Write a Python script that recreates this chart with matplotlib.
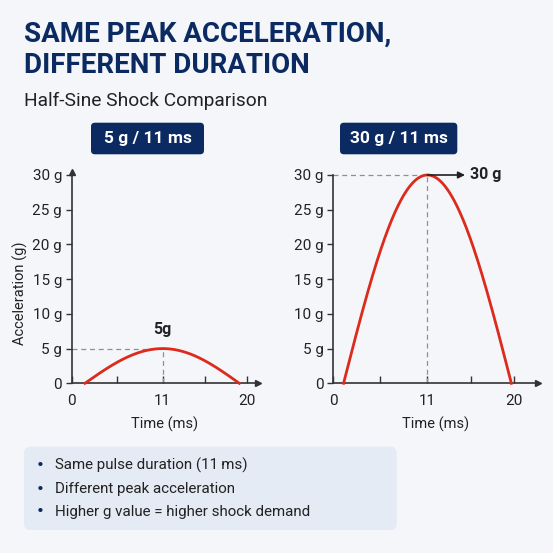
import numpy as np
import matplotlib.pyplot as plt
from matplotlib.patches import FancyBboxPatch

# chart data
panel_titles = ["5 g / 11 ms", "30 g / 11 ms"]
peak_g = [5, 30]
peak_time = 11
pulse_start = [1.6, 1.2]
pulse_end = [19.2, 19.7]
peak_labels = ["5g", "30 g"]
x_ticks = [0, 11, 20]
x_tick_labels = ["0", "11", "20"]
x_minor_ticks = [5.5, 15.5]
y_ticks = [0, 5, 10, 15, 20, 25, 30]
y_tick_labels = ["0", "5 g", "10 g", "15 g", "20 g", "25 g", "30 g"]
bullets = [
    "Same pulse duration (11\u2009ms)",
    "Different peak acceleration",
    "Higher g value = higher shock demand",
]

NAVY = "#0c2a62"
RED = "#dc2a1c"
AXIS = "#333333"
TEXT = "#222222"
BG = "#f4f6fa"

plt.rcParams["font.family"] = ["Roboto", "DejaVu Sans"]

# the time axis is drawn schematically: 11 ms sits just past the middle
BREAK = 0.52


def fwd(t):
    t = np.asarray(t, dtype=float)
    return np.where(t <= 11, t / 11 * BREAK, BREAK + (t - 11) / 9 * (1 - BREAK))


def inv(u):
    u = np.asarray(u, dtype=float)
    return np.where(u <= BREAK, u / BREAK * 11, 11 + (u - BREAK) / (1 - BREAK) * 9)


def half_sine(start, end, tp, peak, n=300):
    t = np.linspace(start, end, n)
    rise = peak * np.sin(np.pi / 2 * (t - start) / (tp - start))
    fall = peak * np.cos(np.pi / 2 * (t - tp) / (end - tp))
    return t, np.where(t <= tp, rise, fall)


fig = plt.figure(figsize=(5.53, 5.53), dpi=100, facecolor=BG)

# titles
fig.text(24 / 553, 1 - 41.7 / 553, "SAME PEAK ACCELERATION,",
         fontweight="bold", fontsize=20, color=NAVY, va="baseline")
fig.text(24 / 553, 1 - 73.3 / 553, "DIFFERENT DURATION",
         fontweight="bold", fontsize=20, color=NAVY, va="baseline")
fig.text(24 / 553, 1 - 106 / 553, "Half-Sine Shock Comparison",
         fontsize=13.8, color=TEXT, va="baseline")

axes_rects = [
    [71.7 / 553, 1 - 383.3 / 553, 186.3 / 553, 211.8 / 553],
    [333.3 / 553, 1 - 383.3 / 553, 204.7 / 553, 208.3 / 553],
]
x_limits = [21.2, 22.46]
y_limits = [30.5, 30]
box_rects = [
    [91 / 553, 1 - 154.3 / 553, 113 / 553, 31.6 / 553],
    [340 / 553, 1 - 154.3 / 553, 117.3 / 553, 31.6 / 553],
]

for i in range(2):
    ax = fig.add_axes(axes_rects[i])
    ax.set_facecolor("none")
    ax.set_xscale("function", functions=(fwd, inv))
    ax.set_xlim(0, x_limits[i])
    ax.set_ylim(0, y_limits[i])

    t, g = half_sine(pulse_start[i], pulse_end[i], peak_time, peak_g[i])
    ax.plot(t, g, color=RED, lw=2.0, clip_on=False, zorder=3)

    # guide lines to the peak
    ax.plot([0, peak_time], [peak_g[i], peak_g[i]], ls=(0, (4, 3)),
            color="#8f8f8f", lw=0.9, zorder=2, clip_on=False)
    ax.plot([peak_time, peak_time], [0, peak_g[i]], ls=(0, (4, 3)),
            color="#8f8f8f", lw=0.9, zorder=2, clip_on=False)

    for side in ["top", "right"]:
        ax.spines[side].set_visible(False)
    for side in ["left", "bottom"]:
        ax.spines[side].set_color(AXIS)
        ax.spines[side].set_linewidth(1.2)

    ax.set_xticks(x_ticks)
    ax.set_xticklabels(x_tick_labels)
    ax.set_xticks(x_minor_ticks, minor=True)
    ax.set_yticks(y_ticks)
    ax.set_yticklabels(y_tick_labels)
    ax.tick_params(axis="x", which="both", direction="in", length=5,
                   width=1, color=AXIS, labelsize=11, labelcolor=TEXT, pad=8)
    ax.tick_params(axis="y", direction="out", length=4, width=1,
                   color=AXIS, labelsize=11, labelcolor=TEXT, pad=3)
    ax.set_xlabel("Time (ms)", fontsize=10.5, color=TEXT, labelpad=6)

    # arrow heads on the axes
    ax.plot(1, 0, ">", color=AXIS, ms=5, transform=ax.get_yaxis_transform(),
            clip_on=False)
    if i == 0:
        ax.plot(0, 1, "^", color=AXIS, ms=5, transform=ax.get_xaxis_transform(),
                clip_on=False)
        ax.annotate(peak_labels[i], xy=(peak_time, peak_g[i]), xytext=(0, 8),
                    textcoords="offset points", ha="center", va="bottom",
                    fontsize=11.5, fontweight="bold", color=TEXT)
    else:
        ax.annotate("", xy=(14.9, peak_g[i]), xytext=(peak_time, peak_g[i]),
                    arrowprops=dict(arrowstyle="-|>", color=TEXT, lw=1.2,
                                    mutation_scale=10, shrinkA=0, shrinkB=0))
        ax.text(15.4, peak_g[i], peak_labels[i], ha="left", va="center",
                fontsize=11.5, fontweight="bold", color=TEXT, clip_on=False)

    # panel label box
    x0, y0, w, h = box_rects[i]
    fig.patches.append(FancyBboxPatch((x0, y0), w, h, transform=fig.transFigure,
                                      boxstyle="round,pad=0,rounding_size=0.007",
                                      fc=NAVY, ec="none"))
    fig.text(x0 + w / 2, y0 + h / 2, panel_titles[i], ha="center", va="center",
             fontsize=12.5, fontweight="bold", color="white")

fig.text(20 / 553, 1 - 293 / 553, "Acceleration (g)", rotation=90,
         ha="center", va="center", fontsize=10.5, color=TEXT)

# summary box
fig.patches.append(FancyBboxPatch((24 / 553, 1 - 530 / 553), 372.7 / 553, 83.3 / 553,
                                  transform=fig.transFigure,
                                  boxstyle="round,pad=0,rounding_size=0.012",
                                  fc="#e4ebf5", ec="none"))
bullet_y = [465, 489, 511.7]
for text, yy in zip(bullets, bullet_y):
    fig.text(40 / 553, 1 - yy / 553, "\u2022", ha="center", va="center",
             fontsize=15, color=NAVY)
    fig.text(55 / 553, 1 - yy / 553, text, ha="left", va="center",
             fontsize=10.9, color=TEXT)

fig.savefig("out.png", dpi=100, facecolor=BG)
